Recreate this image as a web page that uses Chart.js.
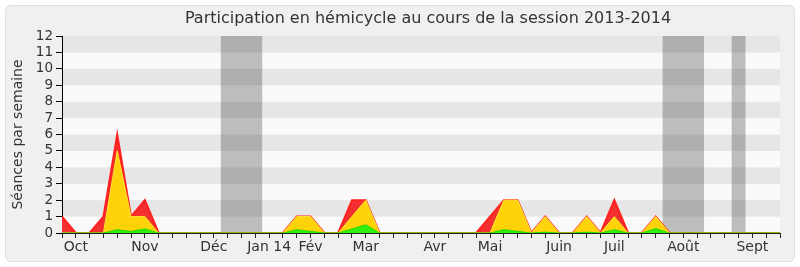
<!DOCTYPE html>
<html>
<head>
<meta charset="utf-8">
<script src="https://cdn.jsdelivr.net/npm/chart.js@4"></script>
<style>
html, body { margin: 0; padding: 0; background: #fff; }
#wrap { position: relative; width: 800px; height: 267px; }
#frame { position: absolute; left: 5px; top: 5px; width: 788px; height: 255px; background: #f0f0f0; border: 1px solid #e0e0e0; border-radius: 6px; }
canvas { position: absolute; left: 0; top: 0; }
</style>
</head>
<body>
<div id="wrap"><div id="frame"></div><canvas id="myChart" width="800" height="267"></canvas></div>
<script>
// une valeur par semaine, de fin sept. 2013 à fin sept. 2014
const weeks = Array.from({length: 53}, (_, i) => i);

const seances = [1,0,0,1,6,1,2,0,0,0, 0,0,0,0,0,0,0,1,1,0, 0,2,2,0,0,0,0,0,0,0, 0,1,2,2,0,1,0,0,1,0, 2,0,0,1,0,0,0,0,0,0, 0,0,0];
const presences = [0,0,0,0,5,1,1,0,0,0, 0,0,0,0,0,0,0,1,1,0, 0,1,2,0,0,0,0,0,0,0, 0,0,2,2,0,1,0,0,1,0, 1,0,0,1,0,0,0,0,0,0, 0,0,0];
const interventions = [0,0,0,0,0.2,0.1,0.25,0,0,0, 0,0,0,0,0,0,0,0.2,0.1,0, 0,0.25,0.5,0,0,0,0,0,0,0, 0,0,0.2,0.1,0,0.05,0,0,0.05,0, 0.2,0,0,0.27,0,0,0,0,0,0, 0,0,0];

const monthTicks = [1, 6, 11, 15, 18, 22, 27, 31, 36, 40, 45, 50];
const monthLabels = ['Oct', 'Nov', 'Déc', 'Jan 14', 'Fév', 'Mar', 'Avr', 'Mai', 'Juin', 'Juil', 'Août', 'Sept'];

// vacances parlementaires (en semaines)
const vacations = [[11.5, 14.5], [43.5, 46.5], [48.5, 49.5]];

const textColor = '#333';
const fontFam = '"DejaVu Sans", sans-serif';

const background = {
    id: 'background',
    beforeDraw(chart) {
        const {ctx, chartArea: a, scales: {x, y}} = chart;
        ctx.save();
        for (let v = 0; v < 12; v++) {
            ctx.fillStyle = v % 2 ? '#e6e6e6' : '#fafafa';
            const top = y.getPixelForValue(v + 1);
            const bot = y.getPixelForValue(v);
            ctx.fillRect(a.left, top, a.width, bot - top);
        }
        ctx.fillStyle = 'rgba(50,50,50,0.3)';
        vacations.forEach(([s, e]) => {
            const l = x.getPixelForValue(s);
            const r = x.getPixelForValue(e);
            ctx.fillRect(l, a.top, r - l, a.height);
        });
        ctx.fillStyle = textColor;
        ctx.font = '16px ' + fontFam;
        ctx.textAlign = 'center';
        ctx.textBaseline = 'middle';
        ctx.fillText('Participation en hémicycle au cours de la session 2013-2014', (a.left + a.right) / 2 + 7, 19);
        ctx.restore();
    }
};

const ctx = document.getElementById('myChart');
new Chart(ctx, {
    type: 'line',
    data: {
        labels: weeks,
        datasets: [{
            data: interventions,
            borderColor: '#22dd00',
            backgroundColor: '#33ee11',
            borderWidth: 1,
            fill: 'origin'
        }, {
            data: presences,
            borderColor: '#ffe633',
            backgroundColor: '#ffd20a',
            borderWidth: 1,
            fill: 'origin'
        }, {
            data: seances,
            borderColor: '#ff2020',
            backgroundColor: '#f23030',
            borderWidth: 2,
            fill: 'origin'
        }]
    },
    options: {
        responsive: false,
        animation: false,
        events: [],
        elements: { point: { radius: 0 }, line: { tension: 0 } },
        layout: { padding: { left: 0, right: 20, top: 36, bottom: 0 } },
        plugins: { legend: { display: false }, tooltip: { enabled: false } },
        scales: {
            x: {
                type: 'linear',
                min: 0,
                max: 52,
                afterBuildTicks: s => { s.ticks = weeks.map(v => ({value: v})); },
                afterFit: s => { s.height = 34; },
                ticks: {
                    autoSkip: false,
                    maxRotation: 0,
                    padding: 1,
                    color: textColor,
                    font: { family: fontFam, size: 14 },
                    callback: v => {
                        const k = monthTicks.indexOf(v);
                        return k >= 0 ? monthLabels[k] : '';
                    }
                },
                grid: { drawOnChartArea: false, tickLength: 5, color: '#222' },
                border: { color: '#222' }
            },
            y: {
                min: 0,
                max: 12,
                afterFit: s => { s.width = 62; },
                ticks: {
                    stepSize: 1,
                    autoSkip: false,
                    padding: 3,
                    color: textColor,
                    font: { family: fontFam, size: 13.5 }
                },
                grid: { drawOnChartArea: false, tickLength: 6, color: '#000' },
                border: { color: '#000' },
                title: {
                    display: true,
                    text: 'Séances par semaine',
                    color: textColor,
                    font: { family: fontFam, size: 14 },
                    padding: { top: 10, bottom: 0 }
                }
            }
        }
    },
    plugins: [background]
});
</script>
</body>
</html>
